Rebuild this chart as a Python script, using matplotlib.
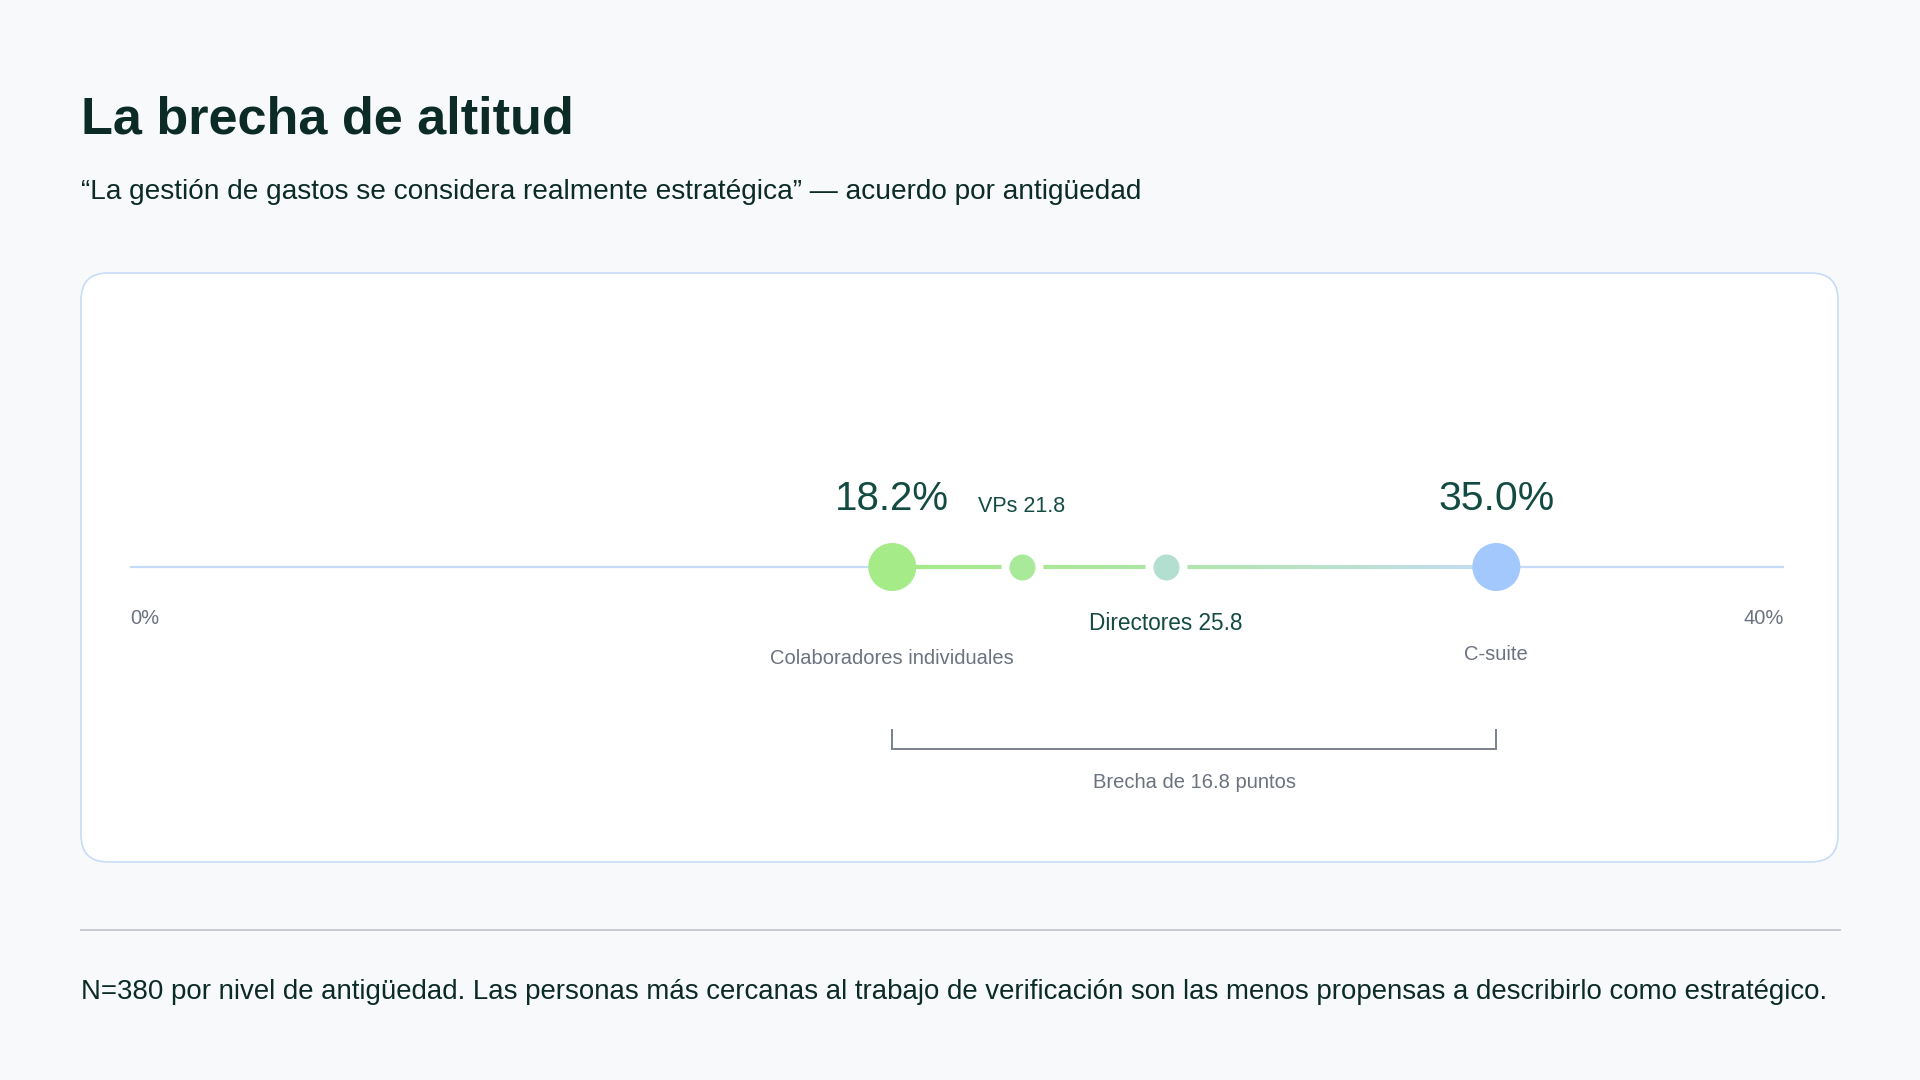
import numpy as np
import matplotlib

matplotlib.use('Agg')
import matplotlib.pyplot as plt
from matplotlib.patches import FancyBboxPatch
from matplotlib.collections import LineCollection

plt.rcParams['font.family'] = ['Liberation Sans', 'DejaVu Sans']

# data
levels = ["Colaboradores individuales", "VPs", "Directores", "C-suite"]
values = [18.2, 21.8, 25.8, 35.0]
marker_colors = ["#a5eb88", "#a9e99a", "#b2dfd0", "#a2c8fd"]
big = [True, False, False, True]
axis_min, axis_max = 0, 40
gap = values[3] - values[0]

title = "La brecha de altitud"
subtitle = "\u201cLa gesti\u00f3n de gastos se considera realmente estrat\u00e9gica\u201d \u2014 acuerdo por antig\u00fcedad"
note = ("N=380 por nivel de antig\u00fcedad. Las personas m\u00e1s cercanas al trabajo de verificaci\u00f3n "
        "son las menos propensas a describirlo como estrat\u00e9gico.")

W, H = 1920, 1080
dark = "#0c2b27"
teal = "#134b42"
gray = "#6b7280"

fig = plt.figure(figsize=(W / 100, H / 100), dpi=100)
fig.patch.set_facecolor("#f8f9fb")

# background layer in pixel coords
bg = fig.add_axes([0, 0, 1, 1])
bg.set_xlim(0, W)
bg.set_ylim(H, 0)
bg.axis('off')

card = FancyBboxPatch((81, 273), 1838 - 81, 862 - 273,
                      boxstyle="round,pad=0,rounding_size=27",
                      facecolor="white", edgecolor="#c8dcf7", linewidth=1.2)
bg.add_patch(card)
bg.plot([81, 1840], [930, 930], color="#c2c6cc", linewidth=1.3)

bg.text(81, 133, title, fontsize=37.6, fontweight='bold', color=dark, va='baseline', ha='left')
bg.text(81, 199, subtitle, fontsize=20.2, color=dark, va='baseline', ha='left')
bg.text(81, 999, note, fontsize=19.9, color=dark, va='baseline', ha='left')

# chart layer: x in data units, y in pixel rows
ax = fig.add_axes([130 / W, 1 - 862 / H, (1784 - 130) / W, (862 - 273) / H])
ax.set_facecolor('none')
ax.set_xlim(axis_min - 3, axis_max + 3)
ax.set_ylim(862, 273)
ax.axis('off')

yl = 567
ax.plot([axis_min - 3, axis_max + 3], [yl, yl], color="#c6dbf7", linewidth=1.6,
        solid_capstyle='butt', zorder=1)

# gradient connector from lowest to highest level
xs = np.linspace(values[0], values[3], 200)
segs = [[(xs[i], yl), (xs[i + 1], yl)] for i in range(len(xs) - 1)]
c0 = np.array(matplotlib.colors.to_rgb("#a6e98c"))
c1 = np.array(matplotlib.colors.to_rgb("#c6dcf7"))
t = np.linspace(0, 1, len(segs)) ** 1.6
cols = [tuple(c0 + (c1 - c0) * k) for k in t]
ax.add_collection(LineCollection(segs, colors=cols, linewidths=3, capstyle='butt', zorder=2))

for v, c, b in zip(values, marker_colors, big):
    if b:
        ax.scatter([v], [yl], s=(48 * 0.72) ** 2, color=c, edgecolors='none', zorder=4)
    else:
        ax.scatter([v], [yl], s=(34 * 0.72) ** 2, color=c, edgecolors='white',
                   linewidths=8 * 0.72, zorder=3)

# labels
ax.text(values[0], 499, f"{values[0]:.1f}%", fontsize=29, color=teal, ha='center', va='center')
ax.text(values[3], 499, f"{values[3]:.1f}%", fontsize=29.5, color=teal, ha='center', va='center')
ax.text(values[1], 507, f"{levels[1]} {values[1]:.1f}", fontsize=15.5, color=teal,
        ha='center', va='center')
ax.text(values[2], 624, f"{levels[2]} {values[2]:.1f}", fontsize=16.3, color=teal,
        ha='center', va='center')
ax.text(values[0], 658, levels[0], fontsize=14.5, color=gray, ha='center', va='center')
ax.text(values[3], 655, levels[3], fontsize=14.5, color=gray, ha='center', va='center')

ax.text(axis_min - 3, 618, f"{axis_min}%", fontsize=14.5, color=gray, ha='left', va='center')
ax.text(axis_max + 3, 618, f"{axis_max}%", fontsize=14.5, color=gray, ha='right', va='center')

# gap bracket
ax.plot([values[0], values[0], values[3], values[3]], [730, 749, 749, 730],
        color="#7b818b", linewidth=1.4, solid_joinstyle='miter')
ax.text((values[0] + values[3]) / 2, 783, f"Brecha de {gap:.1f} puntos", fontsize=14.5,
        color=gray, ha='center', va='center')

plt.savefig('out.png', dpi=100, facecolor=fig.get_facecolor())
